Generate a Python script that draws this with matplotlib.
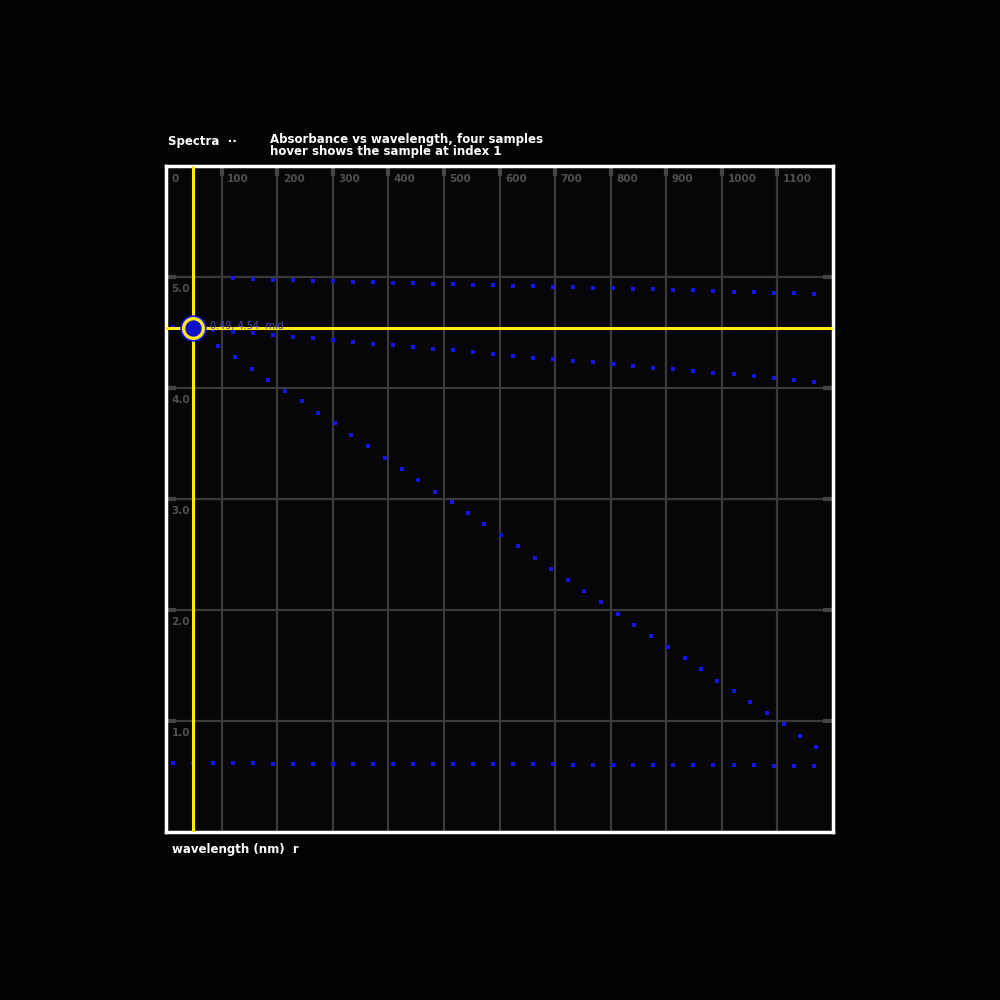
import matplotlib
matplotlib.use("Agg")
import matplotlib.pyplot as plt

# sample positions shared by the three evenly sampled series
x_even = [0.13, 0.49, 0.85, 1.21, 1.57, 1.93, 2.29, 2.65, 3.01, 3.37, 3.73,
          4.09, 4.45, 4.81, 5.17, 5.53, 5.89, 6.25, 6.61, 6.97, 7.33, 7.69,
          8.05, 8.41, 8.77, 9.13, 9.49, 9.85, 10.21, 10.57, 10.93, 11.29, 11.65]

# top series starts at the fourth sample
y_top = [4.988, 4.979, 4.976, 4.973, 4.967, 4.964, 4.958, 4.952, 4.949, 4.943,
         4.940, 4.934, 4.930, 4.925, 4.922, 4.919, 4.913, 4.907, 4.904, 4.898,
         4.892, 4.889, 4.883, 4.880, 4.874, 4.867, 4.865, 4.859, 4.853, 4.850]

y_mid = [4.554, 4.541, 4.525, 4.509, 4.494, 4.477, 4.462, 4.448, 4.430, 4.414,
         4.399, 4.385, 4.367, 4.351, 4.339, 4.324, 4.306, 4.291, 4.273, 4.259,
         4.246, 4.232, 4.214, 4.195, 4.183, 4.168, 4.150, 4.138, 4.123, 4.108,
         4.090, 4.075, 4.057]

y_low = [0.622, 0.621, 0.619, 0.619, 0.619, 0.615, 0.615, 0.615, 0.613, 0.613,
         0.613, 0.613, 0.610, 0.610, 0.610, 0.610, 0.610, 0.610, 0.610, 0.610,
         0.606, 0.606, 0.606, 0.604, 0.604, 0.604, 0.601, 0.601, 0.601, 0.601,
         0.597, 0.597, 0.597]

x_steep = [0.930, 1.241, 1.547, 1.835, 2.141, 2.442, 2.741, 3.035, 3.329, 3.640,
           3.940, 4.241, 4.540, 4.835, 5.137, 5.434, 5.727, 6.027, 6.333, 6.634,
           6.927, 7.227, 7.526, 7.827, 8.127, 8.426, 8.721, 9.033, 9.329, 9.626,
           9.914, 10.214, 10.513, 10.808, 11.114, 11.407, 11.695]
y_steep = [4.381, 4.279, 4.174, 4.075, 3.976, 3.880, 3.777, 3.682, 3.577, 3.475,
           3.369, 3.270, 3.168, 3.066, 2.973, 2.874, 2.775, 2.676, 2.574, 2.471,
           2.372, 2.273, 2.171, 2.069, 1.967, 1.868, 1.768, 1.667, 1.568, 1.468,
           1.363, 1.268, 1.168, 1.069, 0.970, 0.865, 0.766]

x_ticks = [0, 1, 2, 3, 4, 5, 6, 7, 8, 9, 10, 11]
x_tick_labels = ["0", "100", "200", "300", "400", "500", "600", "700", "800",
                 "900", "1000", "1100"]
y_ticks = [5, 4, 3, 2, 1]
y_tick_labels = ["5.0", "4.0", "3.0", "2.0", "1.0"]

hover_index = 1

bg = "#030304"
dot_color = "#1414e6"
grid_color = "#3a3a3a"
label_color = "#505050"
yellow = "#ffe81a"

fig = plt.figure(figsize=(10, 10), dpi=100, facecolor=bg)
ax = fig.add_axes([0.166, 0.168, 0.667, 0.666])
ax.set_facecolor("#060608")
ax.set_xlim(0, 12)
ax.set_ylim(0, 6)

ax.set_xticks(range(1, 12))
ax.set_yticks(range(1, 6))
ax.grid(True, color=grid_color, linewidth=1.6)
ax.tick_params(axis="both", direction="in", length=7, width=3, color="#444444",
               labelbottom=False, labelleft=False, bottom=False, top=True,
               left=True, right=True)
for spine in ax.spines.values():
    spine.set_color("white")
    spine.set_linewidth(2.5)

# tick labels drawn inside the plot area
for xv, lab in zip(x_ticks, x_tick_labels):
    ax.text(xv + 0.1, 5.93, lab, color=label_color, fontsize=7.5,
            ha="left", va="top", fontweight="bold")
for yv, lab in zip(y_ticks, y_tick_labels):
    ax.text(0.1, yv - 0.06, lab, color=label_color, fontsize=7.5,
            ha="left", va="top", fontweight="bold")

ax.scatter(x_even[3:], y_top, s=5, marker="s", color=dot_color, linewidths=0, zorder=3)
ax.scatter(x_even, y_mid, s=5, marker="s", color=dot_color, linewidths=0, zorder=3)
ax.scatter(x_even, y_low, s=5, marker="s", color=dot_color, linewidths=0, zorder=3)
ax.scatter(x_steep, y_steep, s=5, marker="s", color=dot_color, linewidths=0, zorder=3)

# hover crosshair and highlighted point
hx = x_even[hover_index]
hy = y_mid[hover_index]
ax.axvline(hx, color=yellow, linewidth=2.2, zorder=4)
ax.axhline(hy, color=yellow, linewidth=2.2, zorder=4)
ax.scatter([hx], [hy], s=360, color=dot_color, linewidths=0, zorder=5)
ax.scatter([hx], [hy], s=200, facecolor="#1010c8", edgecolor=yellow,
           linewidths=2.4, zorder=6)
ax.text(hx + 0.3, hy + 0.02, f"{hx:.2f}, {hy:.2f}  mid", color="#4a4ab0",
        fontsize=7, ha="left", va="center", zorder=6)

fig.text(0.168, 0.858, "Spectra  \u00b7\u00b7", color="white", fontsize=8.5,
         fontweight="bold", ha="left", va="center")
fig.text(0.270, 0.861, "Absorbance vs wavelength, four samples",
         color="white", fontsize=8.5, fontweight="bold", ha="left", va="center")
fig.text(0.270, 0.849, "hover shows the sample at index 1",
         color="white", fontsize=8.5, fontweight="bold", ha="left", va="center")
fig.text(0.172, 0.151, "wavelength (nm)  r", color="white", fontsize=8.5,
         fontweight="bold", ha="left", va="center")

fig.savefig("out.png", dpi=100, facecolor=bg)
